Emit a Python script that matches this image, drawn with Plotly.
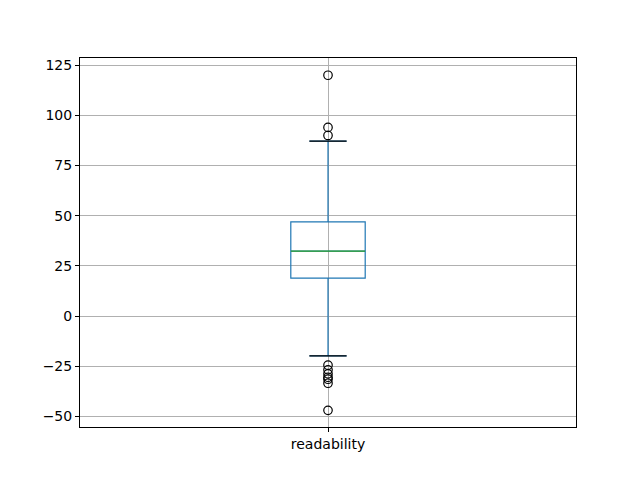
import plotly.graph_objects as go

# readability box stats
category = ["readability"]
q1 = [18.9]
median = [32.4]
q3 = [46.9]
lower_whisker = [-19.9]
upper_whisker = [87.2]
outliers = [120.0, 94.0, 90.0, -24.5, -26.8, -28.8, -30.5, -31.5, -33.5, -47.0]

pos = 1
box_w = 0.15
cap_w = 0.075

fig = go.Figure()

fig.add_trace(go.Box(
    x=[pos], q1=q1, median=median, q3=q3,
    lowerfence=lower_whisker, upperfence=upper_whisker,
    width=box_w, whiskerwidth=0.5,
    line=dict(color="#1f77b4", width=1.2),
    fillcolor="rgba(0,0,0,0)", boxpoints=False, hoverinfo="skip",
))

# median in green
fig.add_trace(go.Scatter(
    x=[pos - box_w / 2, pos + box_w / 2], y=[median[0], median[0]],
    mode="lines", line=dict(color="#2ca02c", width=1.2), hoverinfo="skip",
))

# black whisker caps
for w in (lower_whisker[0], upper_whisker[0]):
    fig.add_trace(go.Scatter(
        x=[pos - cap_w / 2, pos + cap_w / 2], y=[w, w],
        mode="lines", line=dict(color="black", width=1.2), hoverinfo="skip",
    ))

fig.add_trace(go.Scatter(
    x=[pos] * len(outliers), y=outliers, mode="markers",
    marker=dict(symbol="circle-open", size=8.5, color="black", line=dict(width=1.2)),
    hoverinfo="skip",
))

# page body has an 8px margin, so pull the plot area up/left to match
fig.update_layout(
    width=640, height=480,
    margin=dict(l=72, r=72, t=50, b=61),
    paper_bgcolor="white", plot_bgcolor="white",
    showlegend=False,
    font=dict(family="DejaVu Sans", size=14, color="black"),
)
fig.update_xaxes(
    range=[0.5, 1.5], tickvals=[pos], ticktext=category,
    showgrid=True, gridcolor="#b0b0b0", gridwidth=0.8,
    showline=True, linecolor="black", linewidth=1, mirror=True,
    ticks="outside", ticklen=4, tickcolor="black", zeroline=False,
)
fig.update_yaxes(
    range=[-55.3, 128.6], tickvals=[-50, -25, 0, 25, 50, 75, 100, 125],
    showgrid=True, gridcolor="#b0b0b0", gridwidth=0.8,
    showline=True, linecolor="black", linewidth=1, mirror=True,
    ticks="outside", ticklen=4, tickcolor="black", zeroline=False,
)

fig.write_html("out.html")
